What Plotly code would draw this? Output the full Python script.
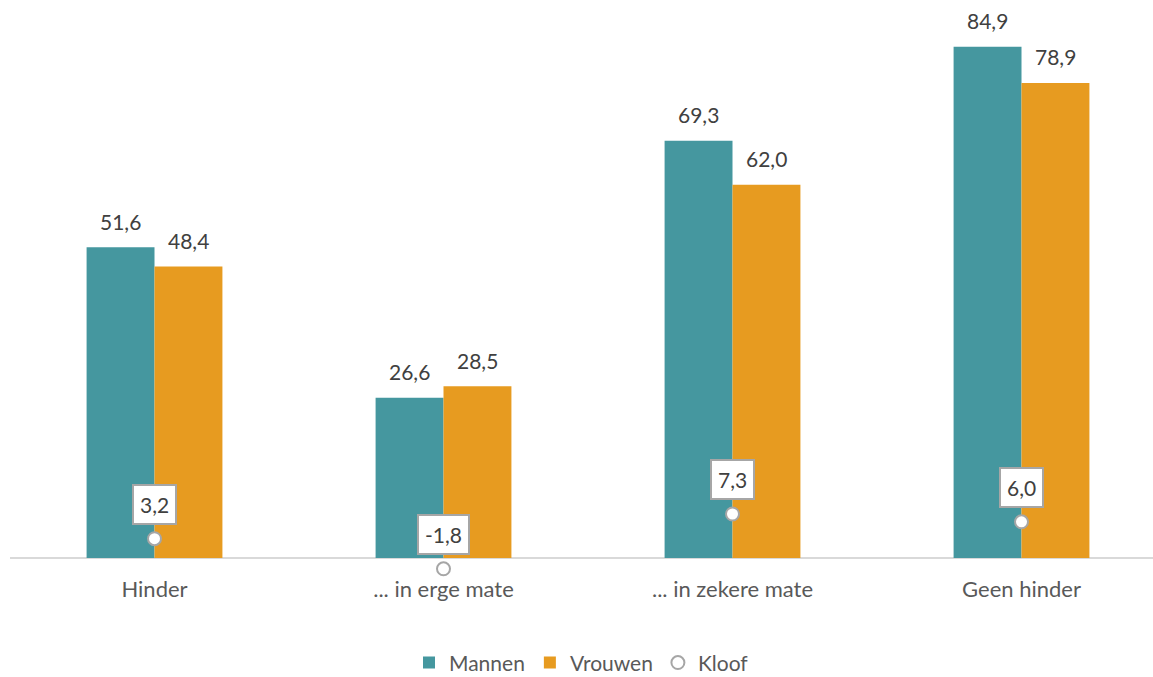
import plotly.graph_objects as go

categories = ['Hinder', '... in erge mate', '... in zekere mate', 'Geen hinder']
mannen = [51.6, 26.6, 69.3, 84.9]
vrouwen = [48.4, 28.5, 62.0, 78.9]
kloof = [3.2, -1.8, 7.3, 6.0]

teal = '#45979F'
orange = '#E79B20'
font_name = 'Lato'


def fmt(v):
    return f'{v:.1f}'.replace('.', ',')


fig = go.Figure()
fig.add_trace(go.Bar(x=categories, y=mannen, name='Mannen',
                     marker_color=teal, marker_line_width=0))
fig.add_trace(go.Bar(x=categories, y=vrouwen, name='Vrouwen',
                     marker_color=orange, marker_line_width=0))
fig.add_trace(go.Scatter(x=categories, y=kloof, name='Kloof', mode='markers',
                         marker=dict(symbol='circle', size=13, color='white',
                                     line=dict(color='#A6A6A6', width=2)),
                         cliponaxis=False))

# value labels above the bars (a bit higher than plotly's outside text)
for series, dx in [(mannen, -34), (vrouwen, 34)]:
    for c, v in zip(categories, series):
        fig.add_annotation(x=c, y=v, text=fmt(v), showarrow=False,
                           xshift=dx, yshift=26, yanchor='middle',
                           font=dict(color='#404040', size=21))

# boxed labels for the gap values
for c, k in zip(categories, kloof):
    fig.add_annotation(x=c, y=k, text=fmt(k), showarrow=False, yshift=34,
                       yanchor='middle',
                       font=dict(color='#404040', size=21),
                       bgcolor='white', bordercolor='#A6A6A6', borderwidth=2,
                       borderpad=6)

fig.update_layout(
    width=1153, height=677,
    template='plotly_white',
    plot_bgcolor='white', paper_bgcolor='white',
    font=dict(family=font_name, color='#595959', size=22),
    barmode='group', bargap=0.53, bargroupgap=0,
    margin=dict(l=10, r=0, t=4, b=104, autoexpand=False),
    showlegend=True,
    legend=dict(orientation='h', x=0.5, xanchor='center', y=-0.158, yanchor='middle',
                font=dict(size=21, color='#595959'), itemwidth=30,
                traceorder='normal', valign='middle'),
)
fig.update_xaxes(range=[-0.5, 3.455], showgrid=False, showline=False,
                 ticks='', ticklabelstandoff=1)
fig.update_yaxes(range=[-2.5, 92], visible=True, showgrid=False, showticklabels=False,
                 zeroline=True, zerolinecolor='#D9D9D9', zerolinewidth=2)

fig.write_html('out.html', config={'displayModeBar': False},
               post_script="document.body.style.margin='0';")
